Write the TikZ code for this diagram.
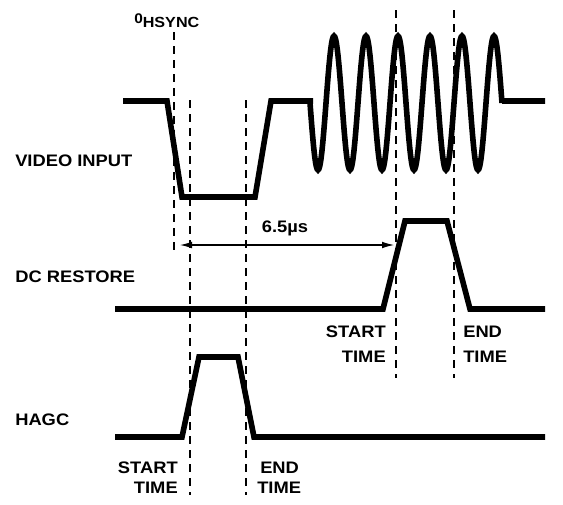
\documentclass[tikz,border=0pt]{standalone}
\usepackage{fontspec}
\setmainfont{Liberation Sans}[FakeStretch=1.1]
\usetikzlibrary{arrows.meta}
\begin{document}
\begin{tikzpicture}[x=0.75pt,y=-0.75pt,
  wave/.style={line width=4.2pt,line join=miter,line cap=butt},
  guide/.style={line width=1.3pt,dash pattern=on 6pt off 4.5pt},
  lbl/.style={inner sep=0pt,font=\fontsize{12.5}{14}\selectfont\bfseries},
  dim/.style={line width=0.8pt,{Latex[length=9pt,width=5pt]}-{Latex[length=9pt,width=5pt]}}]
\useasboundingbox (0,0) rectangle (563,504);
% guide lines
\draw[guide] (174,32) -- (174,253);
\draw[guide] (190,100) -- (190,495);
\draw[guide] (246,100) -- (246,495);
\draw[guide] (396,10) -- (396,378);
\draw[guide] (454,10) -- (454,378);
% video input
\draw[wave] (123,101) -- (167,101) -- (182,197) -- (255,197) -- (271,101) -- (313,101);
\draw[wave] (310,101) -- plot[domain=310:502,samples=241,smooth] (\x,{103+67*sin(11.25*(\x-310))}) -- (502,101) -- (545,101);
% dc restore
\draw[wave] (115,309) -- (383,309) -- (405,221) -- (447,221) -- (470,309) -- (545,309);
% hagc
\draw[wave] (115,437) -- (182,437) -- (199,357) -- (238,357) -- (254,437) -- (545,437);
% dimension
\coordinate (a1) at (180,245);
\coordinate (a2) at (394,245);
\draw[dim] (a1) -- (a2);
\node[lbl] (dimlbl) at (285,228) {6.5µs};
% labels
\node[lbl,anchor=west] (vin) at (15,161) {VIDEO INPUT};
\node[lbl,anchor=west] (dcr) at (15,277) {DC RESTORE};
\node[lbl,anchor=west] (hagc) at (15,420) {HAGC};
\node[inner sep=0pt,anchor=base west,font=\bfseries] (hs) at (134,23)
  {{\fontsize{10.5}{12}\selectfont 0}{\fontsize{11}{12}\selectfont\raisebox{-3.5pt}{HSYNC}}};
\node[lbl,anchor=east] (s1) at (386,332) {START};
\node[lbl,anchor=east] (t1) at (386,357) {TIME};
\node[lbl,anchor=west] (e1) at (463,332) {END};
\node[lbl,anchor=west] (t2) at (463,357) {TIME};
\node[lbl,anchor=east] (s2) at (178,468) {START};
\node[lbl,anchor=east] (t3) at (178,488) {TIME};
\node[lbl,anchor=west] (e2) at (260,468) {END};
\node[lbl,anchor=west] (t4) at (257,488) {TIME};
\end{tikzpicture}
\end{document}
